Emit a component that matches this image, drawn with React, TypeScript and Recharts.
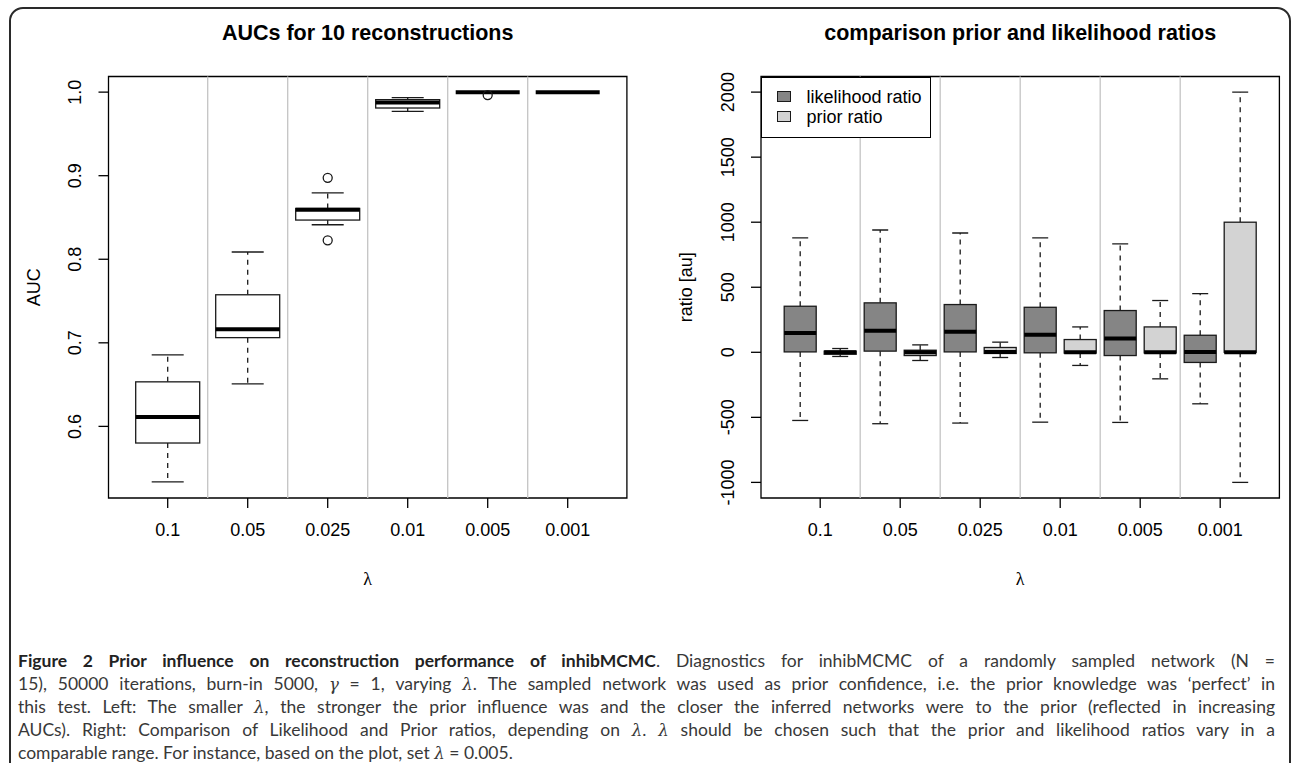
import React from 'react';
import { ComposedChart, Bar, XAxis, YAxis, ReferenceLine, ReferenceArea, Legend, Label } from 'recharts';

// ---------- data ----------
const lambdaLabels = ['0.1', '0.05', '0.025', '0.01', '0.005', '0.001'];

// Left panel: AUC box statistics per lambda
const aucLow = [0.5336, 0.6509, 0.8413, 0.977, 1.0, 1.0];
const aucQ1 = [0.5801, 0.7062, 0.8469, 0.981, 1.0, 1.0];
const aucMed = [0.6111, 0.7161, 0.8592, 0.9875, 1.0, 1.0];
const aucQ3 = [0.6533, 0.7575, 0.8608, 0.991, 1.0, 1.0];
const aucHigh = [0.6855, 0.8087, 0.8795, 0.9935, 1.0, 1.0];
const aucOutliers: number[][] = [[], [], [0.8974, 0.8227], [], [0.9965], []];
const aucTicks = [0.6, 0.7, 0.8, 0.9, 1.0];
const aucTickLabels = ['0.6', '0.7', '0.8', '0.9', '1.0'];

// Right panel: likelihood ratio box statistics per lambda
const likLow = [-524, -549, -544, -537, -539, -396];
const likQ1 = [3, 9, 3, -4, -25, -78];
const likMed = [149, 165, 157, 134, 106, 3];
const likQ3 = [354, 380, 367, 346, 321, 131];
const likHigh = [879, 940, 917, 879, 833, 451];

// Right panel: prior ratio box statistics per lambda
const priLow = [-32, -63, -40, -101, -204, -1000];
const priQ1 = [-15, -25, -9, -6, -5, 0];
const priMed = [0, 0, 2, 0, 0, 0];
const priQ3 = [9, 16, 37, 98, 195, 1000];
const priHigh = [29, 57, 78, 195, 398, 2000];

const ratioTicks = [-1000, -500, 0, 500, 1000, 1500, 2000];
const legendNames = ['likelihood ratio', 'prior ratio'];
const legendColors = ['#858585', '#d3d3d3'];

// ---------- tables ----------
type Stat = { pos: number; lo: number; q1: number; med: number; q3: number; hi: number; out: number[]; fill: string };

const leftData: Stat[] = lambdaLabels.map((_, i) => ({
  pos: i + 1, lo: aucLow[i], q1: aucQ1[i], med: aucMed[i], q3: aucQ3[i], hi: aucHigh[i], out: aucOutliers[i], fill: '#ffffff',
}));

const rightData: Stat[] = lambdaLabels.flatMap((_, i) => [
  { pos: 2 * i + 1, lo: likLow[i], q1: likQ1[i], med: likMed[i], q3: likQ3[i], hi: likHigh[i], out: [], fill: legendColors[0] },
  { pos: 2 * i + 2, lo: priLow[i], q1: priQ1[i], med: priMed[i], q3: priQ3[i], hi: priHigh[i], out: [], fill: legendColors[1] },
]);

const rangeOf = (d: Stat): [number, number] => [Math.min(d.lo, ...d.out), Math.max(d.hi, ...d.out)];

const FONT = '"Liberation Sans", Arial, sans-serif';
const INK = '#1a1a1a';

// ---------- shapes ----------
function BoxShape(props: any) {
  const { x, y, width, height, payload } = props;
  const d: Stat = payload;
  const [rlo, rhi] = rangeOf(d);
  const top = Math.min(y, y + height);
  const bot = Math.max(y, y + height);
  const span = rhi - rlo;
  const py = (v: number) => (span === 0 ? top : bot - ((v - rlo) / span) * (bot - top));
  const cx = x + width / 2;
  const cap = width / 4;
  const yq1 = py(d.q1), yq3 = py(d.q3), ylo = py(d.lo), yhi = py(d.hi), ym = py(d.med);
  return (
    <g>
      {d.hi > d.q3 && <line x1={cx} x2={cx} y1={yq3} y2={yhi} stroke={INK} strokeWidth={1.3} strokeDasharray="5 5" />}
      {d.lo < d.q1 && <line x1={cx} x2={cx} y1={yq1} y2={ylo} stroke={INK} strokeWidth={1.3} strokeDasharray="5 5" />}
      {d.hi > d.q3 && <line x1={cx - cap} x2={cx + cap} y1={yhi} y2={yhi} stroke={INK} strokeWidth={1.3} />}
      {d.lo < d.q1 && <line x1={cx - cap} x2={cx + cap} y1={ylo} y2={ylo} stroke={INK} strokeWidth={1.3} />}
      {d.q3 > d.q1 && (
        <rect x={x} y={yq3} width={width} height={Math.max(0, yq1 - yq3)} fill={d.fill} stroke={INK} strokeWidth={1.3} />
      )}
      <line x1={x} x2={x + width} y1={ym} y2={ym} stroke="#000" strokeWidth={4} />
      {d.out.map((o, k) => (
        <circle key={k} cx={cx} cy={py(o)} r={4.5} fill="none" stroke={INK} strokeWidth={1.3} />
      ))}
    </g>
  );
}

const makeXTick = (labelFor: (v: number) => string) => (props: any) => {
  const { x, y, payload } = props;
  return (
    <text x={x} y={y + 28} textAnchor="middle" fontSize={18} fontFamily={FONT} fill="#000">
      {labelFor(payload.value)}
    </text>
  );
};

const makeYTick = (labelFor: (v: number) => string) => (props: any) => {
  const { x, y, payload } = props;
  const bx = x + 10 - 27;
  return (
    <text x={bx} y={y} transform={`rotate(-90 ${bx} ${y})`} textAnchor="middle" fontSize={18} fontFamily={FONT} fill="#000">
      {labelFor(payload.value)}
    </text>
  );
};

const xLabelContent = (props: any) => {
  const vb = props.viewBox || {};
  return (
    <text x={vb.x + vb.width / 2} y={vb.y + 87} textAnchor="middle" fontSize={18} fontFamily='"Liberation Serif", serif' fill="#000">
      λ
    </text>
  );
};

const makeYLabel = (text: string) => (props: any) => {
  const vb = props.viewBox || {};
  const bx = vb.x + vb.width - 69;
  const cy = vb.y + vb.height / 2;
  return (
    <text x={bx} y={cy} transform={`rotate(-90 ${bx} ${cy})`} textAnchor="middle" fontSize={18} fontFamily={FONT} fill="#000">
      {text}
    </text>
  );
};

const renderLegend = () => (
  <div
    style={{
      position: 'relative', width: 169.5, height: 61, boxSizing: 'border-box', border: '1.3px solid #000',
      background: '#fff', fontFamily: FONT,
    }}
  >
    {legendNames.map((n, i) => (
      <React.Fragment key={n}>
        <div
          style={{
            position: 'absolute', left: 14.7, top: 13.2 + i * 20, width: 14, height: 11.3, background: legendColors[i],
            border: `1.2px solid ${INK}`, boxSizing: 'border-box',
          }}
        />
        <div style={{ position: 'absolute', left: 44.4, top: 10.3 + i * 20, fontSize: 18, lineHeight: 1, color: '#000', whiteSpace: 'nowrap' }}>
          {n}
        </div>
      </React.Fragment>
    ))}
  </div>
);

// ---------- caption ----------
const L = (s: string) => <span style={{ fontFamily: '"DejaVu Serif", serif', fontStyle: 'italic', fontSize: '0.95em' }}>{s}</span>;

const captionLines: React.ReactNode[] = [
  <>
    <b style={{ color: '#222' }}>Figure 2 Prior influence on reconstruction performance of inhibMCMC</b>. Diagnostics for inhibMCMC of a randomly sampled network (N =
  </>,
  <>
    15), 50000 iterations, burn-in 5000, {L('γ')} = 1, varying {L('λ')}. The sampled network was used as prior confidence, i.e. the prior knowledge was ‘perfect’ in
  </>,
  <>
    this test. Left: The smaller {L('λ')}, the stronger the prior influence was and the closer the inferred networks were to the prior (reflected in increasing
  </>,
  <>
    AUCs). Right: Comparison of Likelihood and Prior ratios, depending on {L('λ')}. {L('λ')} should be chosen such that the prior and likelihood ratios vary in a
  </>,
  <>comparable range. For instance, based on the plot, set {L('λ')} = 0.005.</>,
];

const titleStyle: React.CSSProperties = {
  position: 'absolute', width: 518.4, top: 22.5, textAlign: 'center', fontFamily: FONT, fontWeight: 'bold',
  fontSize: 21.5, lineHeight: 1, color: '#000', whiteSpace: 'nowrap',
};

export default function App() {
  return (
    <div style={{ position: 'relative', width: 1292, height: 763, overflow: 'hidden', background: '#fff' }}>
      <style>{'body{margin:0;}'}</style>
      <div
        style={{
          position: 'absolute', left: 9, top: 7, width: 1282, height: 820, boxSizing: 'border-box',
          border: '2px solid #2a2a2a', borderRadius: 14,
        }}
      />
      <div style={{ ...titleStyle, left: 108.5 }}>AUCs for 10 reconstructions</div>
      <div style={{ ...titleStyle, left: 761 }}>comparison prior and likelihood ratios</div>

      <div style={{ position: 'absolute', left: 0, top: 0 }}>
        <ComposedChart width={646} height={620} data={leftData} margin={{ top: 76.5, right: 19.1, bottom: 22, left: 8.5 }}>
          <XAxis
            dataKey="pos" type="number" domain={[0.26, 6.74]} ticks={[1, 2, 3, 4, 5, 6]} allowDataOverflow
            height={100} axisLine={false} tickSize={10} tickMargin={0} tickLine={{ stroke: '#000', strokeWidth: 1.3 }}
            tick={makeXTick((v) => lambdaLabels[Math.round(v) - 1])}
          >
            <Label content={xLabelContent} />
          </XAxis>
          <YAxis
            type="number" domain={[0.5143, 1.0187]} ticks={aucTicks} allowDataOverflow width={100} axisLine={false}
            tickSize={10} tickMargin={0} tickLine={{ stroke: '#000', strokeWidth: 1.3 }}
            tick={makeYTick((v) => aucTickLabels[aucTicks.findIndex((t) => Math.abs(t - v) < 1e-9)])}
          >
            <Label content={makeYLabel('AUC')} />
          </YAxis>
          {[1.5, 2.5, 3.5, 4.5, 5.5].map((s) => (
            <ReferenceLine key={s} x={s} stroke="#c4c4c4" strokeWidth={1.3} />
          ))}
          <Bar dataKey={rangeOf} barSize={64} isAnimationActive={false} shape={BoxShape} />
          <ReferenceArea x1={0.26} x2={6.74} y1={0.5143} y2={1.0187} fill="none" fillOpacity={0} stroke="#000" strokeWidth={1.3} />
        </ComposedChart>
      </div>

      <div style={{ position: 'absolute', left: 646, top: 0 }}>
        <ComposedChart width={646} height={620} data={rightData} margin={{ top: 76.5, right: 12.6, bottom: 22, left: 15 }}>
          <XAxis
            dataKey="pos" type="number" domain={[0.02, 12.98]} ticks={[1.5, 3.5, 5.5, 7.5, 9.5, 11.5]} allowDataOverflow
            height={100} axisLine={false} tickSize={10} tickMargin={0} tickLine={{ stroke: '#000', strokeWidth: 1.3 }}
            tick={makeXTick((v) => lambdaLabels[Math.round((v - 1.5) / 2)])}
          >
            <Label content={xLabelContent} />
          </XAxis>
          <YAxis
            type="number" domain={[-1120, 2120]} ticks={ratioTicks} allowDataOverflow width={100} axisLine={false}
            tickSize={10} tickMargin={0} tickLine={{ stroke: '#000', strokeWidth: 1.3 }}
            tick={makeYTick((v) => String(v))}
          >
            <Label content={makeYLabel('ratio [au]')} />
          </YAxis>
          {[2.5, 4.5, 6.5, 8.5, 10.5].map((s) => (
            <ReferenceLine key={s} x={s} stroke="#c4c4c4" strokeWidth={1.3} />
          ))}
          <Bar dataKey={rangeOf} barSize={32} isAnimationActive={false} shape={BoxShape} />
          <ReferenceArea x1={0.02} x2={12.98} y1={-1120} y2={2120} fill="none" fillOpacity={0} stroke="#000" strokeWidth={1.3} />
          <Legend
            layout="vertical" align="center" verticalAlign="middle"
            wrapperStyle={{ left: 115, top: 76.5, width: 169.5, height: 61 }}
            content={renderLegend}
          />
        </ComposedChart>
      </div>

      <div style={{ position: 'absolute', left: 18, top: 648.5, width: 1257, fontFamily: 'Lato, "Open Sans", sans-serif', fontSize: 17.5, color: '#383838' }}>
        {captionLines.map((ln, i) => (
          <div
            key={i}
            style={{
              height: 23, lineHeight: '23px', whiteSpace: 'nowrap',
              textAlign: i < 4 ? 'justify' : 'left', textAlignLast: i < 4 ? 'justify' : 'left',
            }}
          >
            {ln}
          </div>
        ))}
      </div>
    </div>
  );
}
